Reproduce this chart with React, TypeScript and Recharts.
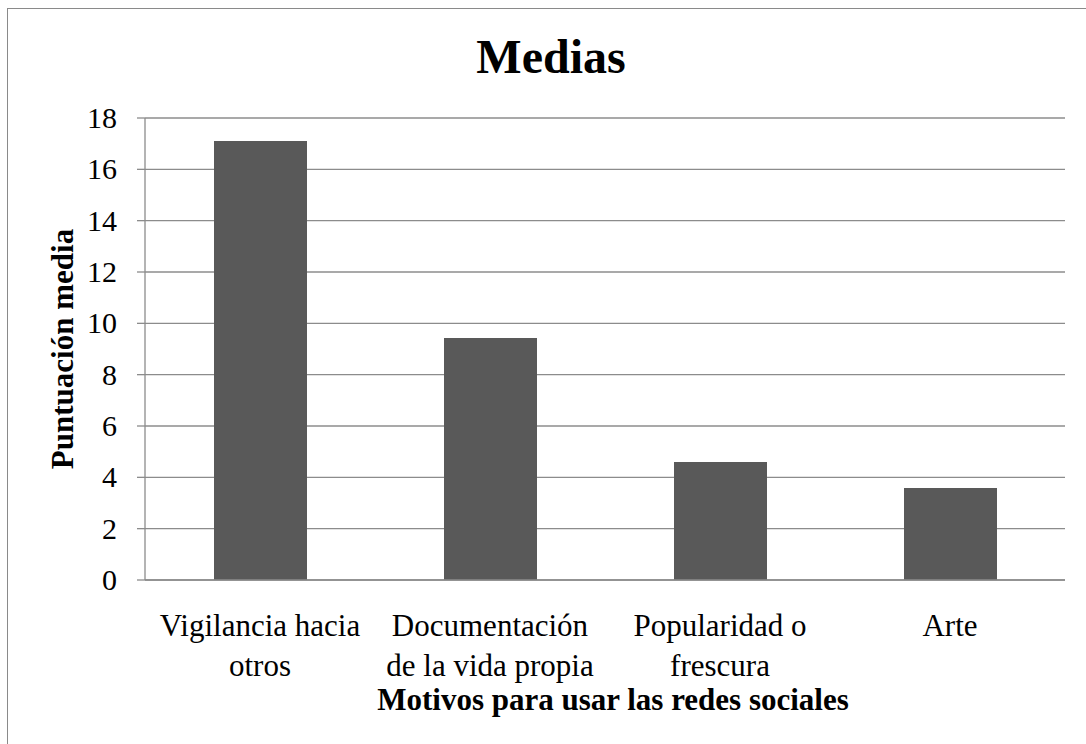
import { BarChart, Bar, XAxis, YAxis, CartesianGrid } from 'recharts';

const motivos = [
  ['Vigilancia hacia', 'otros'],
  ['Documentación', 'de la vida propia'],
  ['Popularidad o', 'frescura'],
  ['Arte'],
];
const medias = [17.1, 9.43, 4.6, 3.58];
const yTicks = [0, 2, 4, 6, 8, 10, 12, 14, 16, 18];

const data = motivos.map((lines, i) => ({ motivo: lines.join(' '), media: medias[i] }));

const FONT = '"Liberation Serif", "Times New Roman", serif';
const GRID = '#8c8c8c';
const txt = (size: number, bold = false) => ({
  fontFamily: FONT,
  fontSize: size,
  fontWeight: bold ? 'bold' : 'normal',
  fill: '#000',
});

// category label, may wrap in two lines
const renderCategoryTick = ({ x, y, payload, index }: any) => {
  const lines = motivos[payload.index ?? index] ?? [payload.value];
  return (
    <text x={x} textAnchor="middle" style={txt(31)}>
      {lines.map((line, i) => (
        <tspan key={i} x={x} y={y + 48 + i * 40}>
          {line}
        </tspan>
      ))}
    </text>
  );
};

const renderValueTick = ({ x, y, payload }: any) => (
  <text x={x} y={y} dy={10} textAnchor="end" style={txt(30)}>
    {payload.value}
  </text>
);

export default function App() {
  return (
    <div style={{ position: 'absolute', left: 0, top: 0, width: 1086, height: 744, overflow: 'hidden', background: '#fff' }}>
      <div
        style={{
          position: 'absolute',
          left: 7,
          top: 8,
          width: 1200,
          height: 900,
          border: '1.5px solid #8a8a8a',
        }}
      />
      <div style={{ position: 'absolute', left: 0, top: 0 }}>
        <BarChart
          width={1086}
          height={744}
          data={data}
          margin={{ top: 118, right: 21, left: 0, bottom: 0 }}
          barSize={93}
        >
          <text x={551} y={73} textAnchor="middle" style={txt(48, true)}>
            Medias
          </text>
          <CartesianGrid vertical={false} stroke={GRID} strokeWidth={1.3} />
          <XAxis
            dataKey="motivo"
            height={164}
            tickLine={false}
            axisLine={{ stroke: GRID, strokeWidth: 1.3 }}
            tick={renderCategoryTick}
            interval={0}
            label={({ viewBox }: any) => (
              <text
                x={viewBox.x + viewBox.width / 2 + 8}
                y={viewBox.y + 130}
                textAnchor="middle"
                style={txt(31, true)}
              >
                Motivos para usar las redes sociales
              </text>
            )}
          />
          <YAxis
            width={145}
            domain={[0, 18]}
            ticks={yTicks}
            interval={0}
            tickSize={8}
            tickMargin={20}
            tickLine={{ stroke: GRID, strokeWidth: 1.3 }}
            axisLine={{ stroke: GRID, strokeWidth: 1.3 }}
            tick={renderValueTick}
            label={({ viewBox }: any) => {
              const cy = viewBox.y + viewBox.height / 2;
              return (
                <text
                  x={73}
                  y={cy}
                  transform={`rotate(-90, 73, ${cy})`}
                  textAnchor="middle"
                  style={txt(31, true)}
                >
                  Puntuación media
                </text>
              );
            }}
          />
          <Bar dataKey="media" fill="#595959" isAnimationActive={false} />
        </BarChart>
      </div>
    </div>
  );
}
